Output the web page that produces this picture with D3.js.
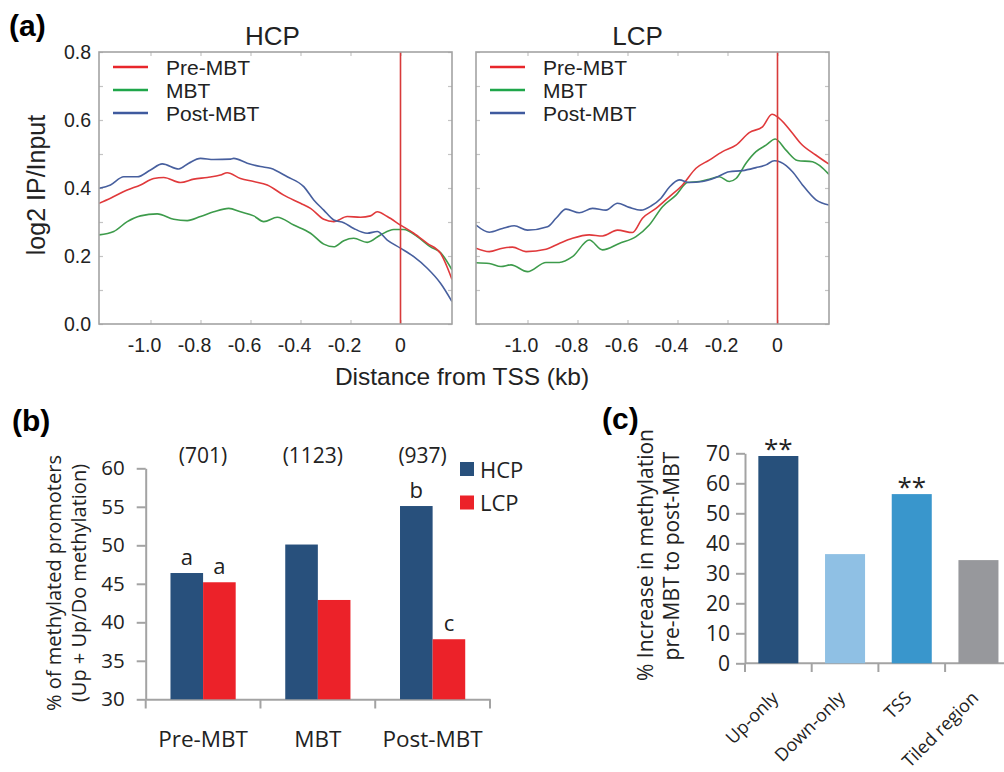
<!DOCTYPE html>
<html>
<head>
<meta charset="utf-8">
<script src="https://d3js.org/d3.v7.min.js"></script>
<style>
  body { margin: 0; background: #fff; }
  svg { display: block; }
  .sans { font-family: "Liberation Sans", Arial, sans-serif; }
  .cal { font-family: "Open Sans", sans-serif; }
</style>
</head>
<body>
<div id="fig"></div>
<script>
// ---- panel (a): profiles around TSS, [kb, log2 IP/Input] ----
const hcpPre = [[-1.206,0.355],[-1.16,0.37],[-1.093,0.394],[-1.04,0.409],[-0.987,0.428],[-0.947,0.431],[-0.88,0.416],[-0.827,0.426],[-0.773,0.431],[-0.72,0.438],[-0.693,0.445],[-0.64,0.428],[-0.587,0.419],[-0.533,0.409],[-0.467,0.379],[-0.4,0.355],[-0.36,0.34],[-0.307,0.308],[-0.267,0.301],[-0.213,0.316],[-0.16,0.314],[-0.12,0.318],[-0.093,0.33],[-0.053,0.316],[0,0.291],[0.053,0.267],[0.107,0.237],[0.16,0.208],[0.206,0.131]];
const hcpMbt = [[-1.206,0.262],[-1.147,0.272],[-1.093,0.301],[-1.04,0.318],[-0.973,0.324],[-0.907,0.308],[-0.853,0.304],[-0.8,0.316],[-0.747,0.33],[-0.687,0.34],[-0.64,0.33],[-0.587,0.318],[-0.547,0.301],[-0.493,0.314],[-0.427,0.291],[-0.36,0.267],[-0.307,0.235],[-0.267,0.227],[-0.227,0.245],[-0.187,0.252],[-0.133,0.24],[-0.08,0.262],[-0.027,0.278],[0.013,0.278],[0.067,0.257],[0.12,0.227],[0.16,0.21],[0.206,0.159]];
const hcpPost = [[-1.206,0.399],[-1.16,0.409],[-1.107,0.433],[-1.053,0.433],[-1.0,0.453],[-0.953,0.471],[-0.887,0.456],[-0.847,0.473],[-0.8,0.487],[-0.747,0.484],[-0.68,0.485],[-0.667,0.487],[-0.613,0.473],[-0.56,0.463],[-0.52,0.458],[-0.453,0.433],[-0.387,0.404],[-0.347,0.365],[-0.307,0.335],[-0.267,0.306],[-0.227,0.298],[-0.187,0.281],[-0.133,0.267],[-0.093,0.272],[-0.053,0.247],[0,0.223],[0.053,0.198],[0.107,0.164],[0.16,0.12],[0.206,0.066]];
const lcpPre = [[-1.206,0.223],[-1.153,0.213],[-1.1,0.223],[-1.06,0.226],[-1.006,0.213],[-0.926,0.22],[-0.873,0.237],[-0.82,0.252],[-0.753,0.262],[-0.7,0.259],[-0.64,0.276],[-0.58,0.269],[-0.54,0.311],[-0.486,0.34],[-0.433,0.374],[-0.38,0.409],[-0.326,0.458],[-0.273,0.482],[-0.22,0.507],[-0.166,0.526],[-0.113,0.563],[-0.06,0.58],[-0.022,0.617],[0.007,0.605],[0.06,0.561],[0.093,0.531],[0.153,0.497],[0.206,0.47]];
const lcpMbt = [[-1.206,0.18],[-1.153,0.178],[-1.106,0.169],[-1.066,0.174],[-1.0,0.154],[-0.926,0.181],[-0.873,0.181],[-0.82,0.198],[-0.753,0.247],[-0.7,0.218],[-0.633,0.237],[-0.566,0.257],[-0.513,0.291],[-0.46,0.345],[-0.406,0.379],[-0.36,0.416],[-0.313,0.419],[-0.273,0.426],[-0.233,0.433],[-0.193,0.419],[-0.166,0.428],[-0.126,0.473],[-0.086,0.507],[-0.046,0.526],[-0.009,0.544],[0.033,0.512],[0.08,0.481],[0.14,0.477],[0.206,0.44]];
const lcpPost = [[-1.206,0.291],[-1.153,0.27],[-1.1,0.281],[-1.053,0.289],[-1.0,0.276],[-0.92,0.286],[-0.886,0.311],[-0.846,0.338],[-0.793,0.327],[-0.74,0.34],[-0.686,0.335],[-0.64,0.355],[-0.593,0.343],[-0.546,0.335],[-0.506,0.347],[-0.466,0.37],[-0.433,0.402],[-0.393,0.424],[-0.353,0.416],[-0.3,0.419],[-0.246,0.431],[-0.193,0.448],[-0.14,0.451],[-0.086,0.46],[-0.046,0.468],[-0.013,0.48],[0.013,0.476],[0.06,0.448],[0.1,0.409],[0.154,0.365],[0.206,0.35]];
const stageNames = ["Pre-MBT", "MBT", "Post-MBT"];
const profileY = [0, 0.2, 0.4, 0.6, 0.8];
const profileX = [-1.0, -0.8, -0.6, -0.4, -0.2, 0];

// ---- panel (b): % methylated promoters ----
const promoterTypes = ["HCP", "LCP"];
const hcpPct = [46.4, 50.1, 55.1];
const lcpPct = [45.2, 42.9, 37.8];
const stageCounts = ["(701)", "(1123)", "(937)"];
const hcpLetters = ["a", "", "b"];
const lcpLetters = ["a", "", "c"];
const pctTicks = [30, 35, 40, 45, 50, 55, 60];

// ---- panel (c): % increase pre-MBT -> post-MBT ----
const regions = ["Up-only", "Down-only", "TSS", "Tiled region"];
const increase = [69.1, 36.4, 56.4, 34.4];
const increaseStars = ["**", "", "**", ""];
const increaseTicks = [0, 10, 20, 30, 40, 50, 60, 70];

const lineColors = { "Pre-MBT": "#e0393b", "MBT": "#3d9b4b", "Post-MBT": "#475f9e" };
const legendColors = { "Pre-MBT": "#e8262b", "MBT": "#1fa64a", "Post-MBT": "#3f5a9e" };
const barColors = { HCP: "#28507c", LCP: "#ec2229" };
const regionColors = ["#27507b", "#8fc0e4", "#3996cc", "#97989c"];
const axisGrey = "#a3a3a3";

const svg = d3.select("#fig").append("svg")
  .attr("width", 1004).attr("height", 772)
  .style("background", "#fff");

// panel labels
svg.append("text").attr("class", "sans").attr("x", 9).attr("y", 36)
  .attr("font-size", 30).attr("font-weight", "bold").text("(a)");
svg.append("text").attr("class", "sans").attr("x", 12).attr("y", 431)
  .attr("font-size", 30).attr("font-weight", "bold").text("(b)");
svg.append("text").attr("class", "sans").attr("x", 602).attr("y", 429)
  .attr("font-size", 30).attr("font-weight", "bold").text("(c)");

// ================= panel (a) =================
const aw = 353, ah = 272;
const xA = d3.scaleLinear().domain([-1.206, 0.206]).range([0, aw]);
const yA = d3.scaleLinear().domain([0, 0.8]).range([ah, 0]);
const line = d3.line().x(d => xA(d[0])).y(d => yA(d[1])).curve(d3.curveMonotoneX);

function profilePanel(x0, title, titleShift, series, showY, clipId) {
  const g = svg.append("g").attr("transform", `translate(${x0},52)`).attr("class", "sans");

  g.append("clipPath").attr("id", clipId)
    .append("rect").attr("width", aw).attr("height", ah);

  // inward minor ticks every 0.1 on both sides, x ticks top/bottom
  const yt = d3.range(0, 0.81, 0.1);
  const left = g.append("g").call(d3.axisLeft(yA).tickValues(yt).tickSize(-4).tickFormat(""));
  const right = g.append("g").attr("transform", `translate(${aw},0)`)
    .call(d3.axisRight(yA).tickValues(yt).tickSize(-4).tickFormat(""));
  const bot = g.append("g").attr("transform", `translate(0,${ah})`)
    .call(d3.axisBottom(xA).tickValues(profileX).tickSize(-4).tickFormat(""));
  const top = g.append("g").call(d3.axisTop(xA).tickValues(profileX).tickSize(-4).tickFormat(""));
  [left, right, bot, top].forEach(a => {
    a.select(".domain").remove();
    a.selectAll("line").attr("stroke", "#c4c4c4").attr("stroke-width", 1.2);
  });

  // tick labels
  g.selectAll(".xl").data(profileX).join("text")
    .attr("x", d => xA(d) + (d === 0 ? 0 : -6)).attr("y", ah + 28)
    .attr("text-anchor", "middle").attr("font-size", 19.5).attr("fill", "#222")
    .text(d => d === 0 ? "0" : d.toFixed(1));
  if (showY) {
    g.selectAll(".yl").data(profileY).join("text")
      .attr("x", -8).attr("y", d => yA(d) + 6.5)
      .attr("text-anchor", "end").attr("font-size", 19.5).attr("fill", "#222")
      .text(d => d.toFixed(1));
  }

  // curves
  const cg = g.append("g").attr("clip-path", `url(#${clipId})`);
  cg.selectAll("path").data(series).join("path")
    .attr("d", d => line(d.values))
    .attr("fill", "none")
    .attr("stroke", d => lineColors[d.name])
    .attr("stroke-width", 1.6);

  // TSS line
  g.append("line").attr("x1", xA(0)).attr("x2", xA(0)).attr("y1", 0).attr("y2", ah)
    .attr("stroke", "#d83a3a").attr("stroke-width", 1.6);

  // frame
  g.append("rect").attr("width", aw).attr("height", ah)
    .attr("fill", "none").attr("stroke", axisGrey).attr("stroke-width", 1.6);

  // title
  g.append("text").attr("x", aw / 2 + titleShift).attr("y", -7).attr("text-anchor", "middle")
    .attr("font-size", 26).attr("fill", "#222").text(title);

  // legend
  const lg = g.append("g").attr("transform", "translate(14,15)");
  stageNames.forEach((s, i) => {
    lg.append("line").attr("x1", 0).attr("x2", 35).attr("y1", i * 23).attr("y2", i * 23)
      .attr("stroke", legendColors[s]).attr("stroke-width", 2.5);
    lg.append("text").attr("x", 53).attr("y", i * 23 + 7.5).attr("font-size", 21)
      .attr("fill", "#222").text(s);
  });
}

profilePanel(99, "HCP", -3, [
  { name: "MBT", values: hcpMbt }, { name: "Pre-MBT", values: hcpPre }, { name: "Post-MBT", values: hcpPost }
], true, "clipH");
profilePanel(476, "LCP", -15, [
  { name: "MBT", values: lcpMbt }, { name: "Pre-MBT", values: lcpPre }, { name: "Post-MBT", values: lcpPost }
], false, "clipL");

svg.append("text").attr("class", "sans")
  .attr("transform", "translate(45,185) rotate(-90)")
  .attr("text-anchor", "middle").attr("font-size", 25).attr("fill", "#222")
  .text("log2 IP/Input");
svg.append("text").attr("class", "sans").attr("x", 462).attr("y", 385)
  .attr("text-anchor", "middle").attr("font-size", 24.5).attr("fill", "#222")
  .text("Distance from TSS (kb)");

// ================= panel (b) =================
const yB = d3.scaleLinear().domain([30, 60]).range([699.3, 468.3]);
const xB = d3.scaleBand().domain(stageNames).range([145.7, 490]);
const xB2 = d3.scaleBand().domain(promoterTypes).range([0, xB.bandwidth()]).paddingOuter(0.76);

const gb = svg.append("g").attr("class", "cal");
const ax = gb.append("g").attr("transform", "translate(145.7,0)")
  .call(d3.axisLeft(yB).tickValues(pctTicks).tickSize(9).tickSizeOuter(0).tickPadding(12));
ax.select(".domain").attr("stroke", axisGrey).attr("stroke-width", 2);
ax.selectAll(".tick line").attr("stroke", axisGrey).attr("stroke-width", 2);
ax.selectAll(".tick text").attr("font-size", 20.5).attr("fill", "#222").attr("font-family", "Open Sans");

const bx = gb.append("g").attr("transform", "translate(0,699.3)")
  .call(d3.axisBottom(xB).tickSize(0).tickFormat(""));
bx.select(".domain").attr("stroke", axisGrey).attr("stroke-width", 2);
gb.selectAll(".cat-tick").data([...stageNames.map(s => xB(s)), xB.range()[1]]).join("line")
  .attr("x1", d => d).attr("x2", d => d).attr("y1", 699.3).attr("y2", 708.5)
  .attr("stroke", axisGrey).attr("stroke-width", 2);

const groups = gb.selectAll(".grp").data(stageNames).join("g")
  .attr("transform", d => `translate(${xB(d)},0)`);
const barRows = (s, i) => [
  { type: "HCP", v: hcpPct[i], lab: hcpLetters[i] },
  { type: "LCP", v: lcpPct[i], lab: lcpLetters[i] }
];
groups.selectAll("rect").data(barRows).join("rect")
  .attr("x", d => xB2(d.type)).attr("width", xB2.bandwidth())
  .attr("y", d => yB(d.v)).attr("height", d => yB(30) - yB(d.v))
  .attr("fill", d => barColors[d.type]);
groups.selectAll(".let").data(barRows).join("text")
  .attr("x", d => xB2(d.type) + xB2.bandwidth() / 2).attr("y", d => yB(d.v) - 8)
  .attr("text-anchor", "middle").attr("font-size", 22).attr("fill", "#222")
  .text(d => d.lab);
groups.append("text")
  .attr("x", (d, i) => xB.bandwidth() / 2 - 5 * i).attr("y", 463)
  .attr("text-anchor", "middle").attr("font-size", 21).attr("fill", "#222")
  .text((d, i) => stageCounts[i]);
groups.append("text")
  .attr("x", xB.bandwidth() / 2).attr("y", 747)
  .attr("text-anchor", "middle").attr("font-size", 22.5).attr("fill", "#222")
  .text(d => d);

// legend
promoterTypes.forEach((t, i) => {
  gb.append("rect").attr("x", 460).attr("y", 462 + i * 33.5).attr("width", 14).attr("height", 14)
    .attr("fill", barColors[t]);
  gb.append("text").attr("x", 480).attr("y", 477.5 + i * 33.5).attr("font-size", 22)
    .attr("fill", "#222").text(t);
});

gb.append("text").attr("transform", "translate(61,583) rotate(-90)")
  .attr("text-anchor", "middle").attr("font-size", 20).attr("fill", "#222")
  .text("% of methylated promoters");
gb.append("text").attr("transform", "translate(86,583) rotate(-90)")
  .attr("text-anchor", "middle").attr("font-size", 20).attr("fill", "#222")
  .text("(Up + Up/Do methylation)");

// ================= panel (c) =================
const yC = d3.scaleLinear().domain([0, 70]).range([663.3, 453.3]);
const xC = d3.scaleBand().domain(regions).range([745, 745 + 4 * 66.7]).paddingInner(0.4).paddingOuter(0.2);

const gc = svg.append("g").attr("class", "cal");
const cy = gc.append("g").attr("transform", "translate(745,0)")
  .call(d3.axisLeft(yC).tickValues(increaseTicks).tickSize(9).tickSizeOuter(0).tickPadding(6));
cy.select(".domain").attr("stroke", axisGrey).attr("stroke-width", 2);
cy.selectAll(".tick line").attr("stroke", axisGrey).attr("stroke-width", 2);
cy.selectAll(".tick text").attr("font-size", 21).attr("fill", "#222").attr("font-family", "Open Sans");

gc.append("line").attr("x1", 745).attr("x2", 1004).attr("y1", 663.3).attr("y2", 663.3)
  .attr("stroke", axisGrey).attr("stroke-width", 2);
gc.selectAll(".ctick").data(regions).join("line")
  .attr("x1", d => xC(d) - xC.step() * 0.2).attr("x2", d => xC(d) - xC.step() * 0.2)
  .attr("y1", 663.3).attr("y2", 672)
  .attr("stroke", axisGrey).attr("stroke-width", 2);

gc.selectAll(".bar").data(regions).join("rect")
  .attr("x", d => xC(d)).attr("width", xC.bandwidth())
  .attr("y", (d, i) => yC(increase[i])).attr("height", (d, i) => yC(0) - yC(increase[i]))
  .attr("fill", (d, i) => regionColors[i]);
gc.selectAll(".star").data(regions).join("text")
  .attr("x", d => xC(d) + xC.bandwidth() / 2).attr("y", (d, i) => yC(increase[i]) + 2)
  .attr("text-anchor", "middle").attr("font-size", 26).attr("fill", "#222")
  .text((d, i) => increaseStars[i]);
gc.selectAll(".rlab").data(regions).join("text")
  .attr("transform", d => `translate(${xC(d) + xC.bandwidth() / 2 + 1},699) rotate(-45)`)
  .attr("text-anchor", "end").attr("font-size", 18).attr("fill", "#222")
  .text(d => d);

gc.append("text").attr("transform", "translate(653,555) rotate(-90)")
  .attr("text-anchor", "middle").attr("font-size", 21).attr("fill", "#222")
  .text("% Increase in methylation");
gc.append("text").attr("transform", "translate(679,556) rotate(-90)")
  .attr("text-anchor", "middle").attr("font-size", 21).attr("fill", "#222")
  .text("pre-MBT to post-MBT");
</script>
</body>
</html>
